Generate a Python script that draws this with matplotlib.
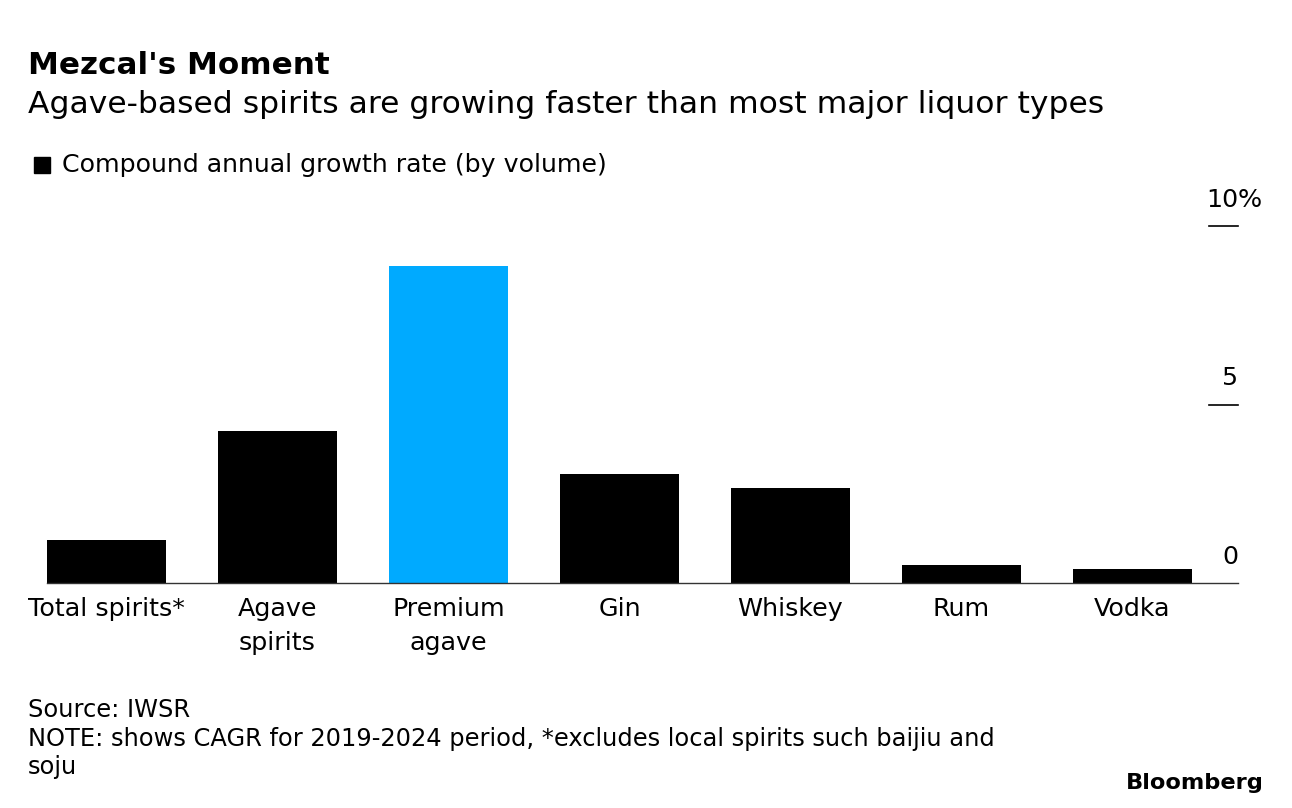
import matplotlib
matplotlib.use("Agg")
import matplotlib.pyplot as plt
from matplotlib.patches import Rectangle
from matplotlib.transforms import blended_transform_factory

categories = ["Total spirits*", "Agave\nspirits", "Premium\nagave", "Gin", "Whiskey", "Rum", "Vodka"]
values = [1.2, 4.25, 8.87, 3.05, 2.65, 0.5, 0.4]
highlight = [False, False, True, False, False, False, False]
yticks = [0, 5, 10]
yticknumbers = ["0", "5", "10"]
ytickunits = ["", "", "%"]

plt.rcParams['font.family'] = ['DejaVu Sans']

W, H = 1292, 808
fig = plt.figure(figsize=(W / 100, H / 100), dpi=100)

def fx(px):
    return px / W

def fy(py):
    return 1 - py / H

ax_left, ax_right, ax_top, ax_bottom = 47, 1238, 226, 583
ax = fig.add_axes([fx(ax_left), fy(ax_bottom), fx(ax_right - ax_left), (ax_bottom - ax_top) / H])

colors = ["#00AAFF" if h else "#000000" for h in highlight]
x = list(range(len(categories)))
ax.bar(x, values, width=0.70, color=colors, zorder=2)
ax.set_xlim(-0.348, 6.617)
ax.set_ylim(0, 10)

for s in ["top", "right", "left"]:
    ax.spines[s].set_visible(False)
ax.spines["bottom"].set_color("#333333")
ax.spines["bottom"].set_linewidth(1.0)

ax.set_xticks(x)
ax.set_xticklabels(categories, fontsize=18.3, linespacing=1.52, va="top")
ax.tick_params(axis="x", length=0, pad=10)
ax.set_yticks([])

# y tick marks and labels on right side
tr = blended_transform_factory(ax.transAxes, ax.transData)
tick_len = 29 / (ax_right - ax_left)
for v, num, unit in zip(yticks, yticknumbers, ytickunits):
    if v != 0:
        ax.plot([1 - tick_len, 1], [v, v], color="#000000", lw=1.2, transform=tr, clip_on=False)
    ax.annotate(num, xy=(1, v), xycoords=tr, xytext=(0, 14), textcoords="offset points",
                ha="right", va="baseline", fontsize=18.3)
    if unit:
        ax.annotate(unit, xy=(1, v), xycoords=tr, xytext=(0, 14), textcoords="offset points",
                    ha="left", va="baseline", fontsize=18.3)

# titles
fig.text(fx(28), fy(74), "Mezcal's Moment", fontsize=22.3, fontweight="bold", ha="left", va="baseline")
fig.text(fx(28), fy(113), "Agave-based spirits are growing faster than most major liquor types",
         fontsize=22.6, ha="left", va="baseline")

# legend
fig.patches.append(Rectangle((fx(34), fy(173)), fx(16), 16 / H, transform=fig.transFigure,
                             color="#000000", figure=fig))
fig.text(fx(62), fy(172), "Compound annual growth rate (by volume)", fontsize=18.2, ha="left", va="baseline")

# footer
fig.text(fx(28), fy(717), "Source: IWSR", fontsize=17.35, ha="left", va="baseline")
fig.text(fx(28), fy(746), "NOTE: shows CAGR for 2019-2024 period, *excludes local spirits such baijiu and",
         fontsize=17.35, ha="left", va="baseline")
fig.text(fx(28), fy(774), "soju", fontsize=17.35, ha="left", va="baseline")
fig.text(fx(1264), fy(789), "Bloomberg", fontsize=16.2, fontweight="bold", ha="right", va="baseline")

fig.savefig("out.png", dpi=100)
